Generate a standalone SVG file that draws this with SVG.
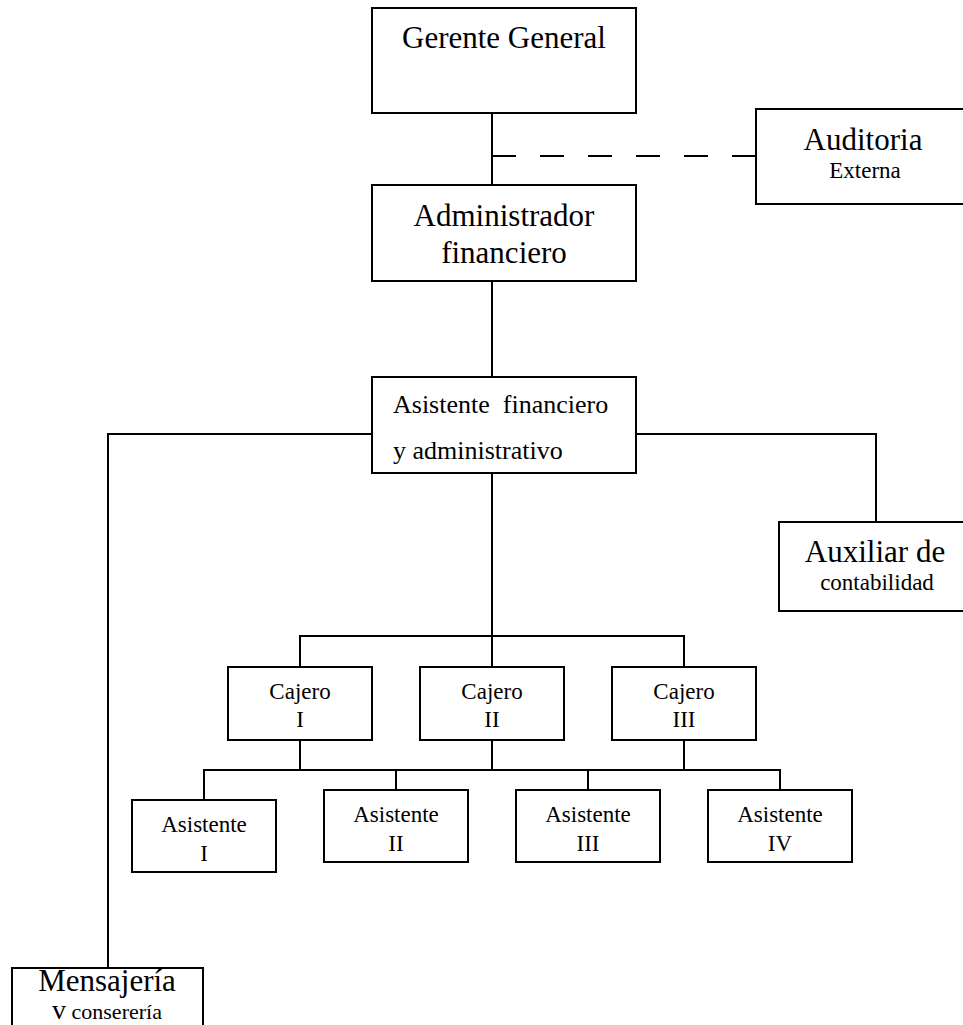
<svg xmlns="http://www.w3.org/2000/svg" width="963" height="1025" viewBox="0 0 963 1025">
<style>
.box{fill:#fff;stroke:#000;stroke-width:2}
.ln{fill:none;stroke:#000;stroke-width:2}
.dash{fill:none;stroke:#000;stroke-width:2;stroke-dasharray:24 24}
text{font-family:'Liberation Serif','DejaVu Serif',serif;fill:#000}
.big{font-size:31px;text-anchor:middle}
.mid{font-size:26px}
.sm{font-size:23px;text-anchor:middle}
.cj{font-size:23px;text-anchor:middle}
</style>
<rect width="963" height="1025" fill="#fff"/>
<g id="connectors">
<path class="ln" d="M492 113V185"/>
<path class="dash" d="M492 156H756"/>
<path class="ln" d="M492 281V377"/>
<path class="ln" d="M372 434H108V968"/>
<path class="ln" d="M636 434H876V522"/>
<path class="ln" d="M492 473V636"/>
<path class="ln" d="M300 667V636H684V667"/>
<path class="ln" d="M300 740V770"/>
<path class="ln" d="M492 636V667"/>
<path class="ln" d="M492 740V770"/>
<path class="ln" d="M684 740V770"/>
<path class="ln" d="M204 800V770H780V790"/>
<path class="ln" d="M396 770V790"/>
<path class="ln" d="M588 770V790"/>
</g>
<g id="gerente">
<rect class="box" x="372" y="8" width="264" height="105"/>
<text class="big" x="504" y="48">Gerente General</text>
</g>
<g id="auditoria">
<rect class="box" x="756" y="109" width="220" height="95"/>
<text class="big" x="863" y="150">Auditoria</text>
<text class="sm" x="865" y="178">Externa</text>
</g>
<g id="administrador">
<rect class="box" x="372" y="185" width="264" height="96"/>
<text class="big" x="504" y="226">Administrador</text>
<text class="big" x="504" y="263">financiero</text>
</g>
<g id="asistente-financiero">
<rect class="box" x="372" y="377" width="264" height="96"/>
<text class="mid" x="393" y="413" style="white-space:pre">Asistente  financiero</text>
<text class="mid" x="393" y="459">y administrativo</text>
</g>
<g id="auxiliar">
<rect class="box" x="779" y="522" width="200" height="89"/>
<text class="big" x="875" y="562">Auxiliar de</text>
<text class="sm" x="877" y="590">contabilidad</text>
</g>
<g id="cajero1">
<rect class="box" x="228" y="667" width="144" height="73"/>
<text class="cj" x="300" y="699">Cajero</text>
<text class="cj" x="300" y="727">I</text>
</g>
<g id="cajero2">
<rect class="box" x="420" y="667" width="144" height="73"/>
<text class="cj" x="492" y="699">Cajero</text>
<text class="cj" x="492" y="727">II</text>
</g>
<g id="cajero3">
<rect class="box" x="612" y="667" width="144" height="73"/>
<text class="cj" x="684" y="699">Cajero</text>
<text class="cj" x="684" y="727">III</text>
</g>
<g id="asistente1">
<rect class="box" x="132" y="800" width="144" height="72"/>
<text class="cj" x="204" y="832">Asistente</text>
<text class="cj" x="204" y="861">I</text>
</g>
<g id="asistente2">
<rect class="box" x="324" y="790" width="144" height="72"/>
<text class="cj" x="396" y="822">Asistente</text>
<text class="cj" x="396" y="851">II</text>
</g>
<g id="asistente3">
<rect class="box" x="516" y="790" width="144" height="72"/>
<text class="cj" x="588" y="822">Asistente</text>
<text class="cj" x="588" y="851">III</text>
</g>
<g id="asistente4">
<rect class="box" x="708" y="790" width="144" height="72"/>
<text class="cj" x="780" y="822">Asistente</text>
<text class="cj" x="780" y="851">IV</text>
</g>
<g id="mensajeria">
<rect class="box" x="12" y="968" width="191" height="100"/>
<text class="big" x="107" y="991">Mensajería</text>
<text x="107" y="1019" text-anchor="middle"><tspan font-size="28">v</tspan><tspan font-size="22"> conserería</tspan></text>
</g>
</svg>
